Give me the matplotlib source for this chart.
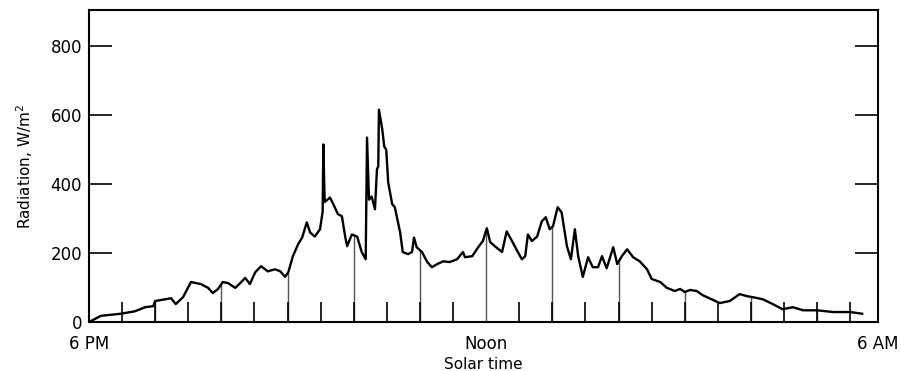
import matplotlib
matplotlib.use("Agg")
import matplotlib.pyplot as plt
import numpy as np

# solar time in hours from the left edge, radiation in W/m^2
hours = [0.03, 0.18, 0.48, 0.69, 0.85, 0.97, 1.00, 1.15, 1.24, 1.31, 1.42,
         1.54, 1.69, 1.80, 1.87, 1.95, 2.02, 2.10, 2.21, 2.30, 2.36, 2.43,
         2.51, 2.60, 2.70, 2.81, 2.89, 2.96, 3.01, 3.08, 3.16, 3.22, 3.29,
         3.34, 3.41, 3.49, 3.53, 3.54, 3.56, 3.64, 3.69, 3.76, 3.82, 3.87,
         3.90, 3.97, 4.05, 4.12, 4.18, 4.20, 4.23, 4.27, 4.32, 4.35, 4.37,
         4.38, 4.43, 4.46, 4.49, 4.52, 4.58, 4.62, 4.70, 4.74, 4.82, 4.88,
         4.91, 4.95, 5.03, 5.11, 5.18, 5.26, 5.35, 5.45, 5.56, 5.65, 5.68,
         5.79, 5.88, 5.95, 6.01, 6.06, 6.13, 6.24, 6.31, 6.39, 6.47, 6.54,
         6.59, 6.63, 6.69, 6.77, 6.84, 6.90, 6.96, 7.01, 7.08, 7.14, 7.22,
         7.28, 7.34, 7.39, 7.46, 7.54, 7.61, 7.69, 7.75, 7.82, 7.92, 7.98,
         8.05, 8.13, 8.22, 8.32, 8.43, 8.50, 8.63, 8.73, 8.85, 8.93, 9.00,
         9.08, 9.18, 9.27, 9.43, 9.53, 9.68, 9.83, 9.94, 10.03, 10.18,
         10.33, 10.48, 10.63, 10.79, 11.00, 11.24, 11.50, 11.68]
radiation = [3, 18, 24, 31, 43, 46, 61, 66, 69, 52, 72,
             116, 110, 99, 84, 96, 116, 113, 99, 116, 128, 110,
             144, 162, 147, 153, 147, 131, 144, 191, 226, 245, 289,
             260, 248, 269, 321, 515, 348, 361, 342, 313, 307, 248,
             220, 254, 248, 203, 182, 535, 355, 364, 327, 443, 452,
             616, 559, 509, 500, 405, 342, 333, 260, 203, 197, 203,
             245, 217, 203, 174, 159, 168, 176, 174, 182, 203, 188,
             191, 217, 235, 272, 232, 220, 203, 263, 235, 206, 182,
             191, 254, 235, 248, 292, 304, 269, 278, 333, 318, 220,
             182, 269, 191, 131, 188, 159, 159, 191, 156, 217, 168,
             191, 211, 188, 176, 153, 125, 116, 99, 90, 96, 87,
             93, 90, 78, 64, 55, 61, 81, 75, 72, 66,
             52, 37, 43, 34, 34, 29, 29, 24]

x_end = 11.92
half_hours = np.arange(0.5, 12.0, 0.5)
whole_hours = np.arange(1, 12, 1)
y_ticks = [0, 200, 400, 600, 800]

fig = plt.figure(figsize=(9.01, 3.71), dpi=100)
ax = fig.add_axes([0.0988, 0.132, 0.8757, 0.841])

# hourly drop lines from the axis up to the trace
drop = np.interp(whole_hours, hours, radiation)
ax.vlines(whole_hours, 0, drop, color="#555555", lw=1.0, zorder=1)

ax.plot(hours, radiation, color="black", lw=1.7, zorder=3)

ax.set_xlim(0, x_end)
ax.set_ylim(0, 905)

ax.set_yticks(y_ticks)
ax.tick_params(axis="y", direction="in", length=16.5, width=1.2,
               labelsize=12, right=True, pad=5)

ax.set_xticks([0, 6, x_end])
ax.set_xticklabels(["6 PM", "Noon", "6 AM"], fontsize=12)
ax.set_xticks(half_hours, minor=True)
ax.tick_params(axis="x", which="major", length=0, pad=9)
ax.tick_params(axis="x", which="minor", direction="in", length=14.5, width=1.2)

for s in ax.spines.values():
    s.set_linewidth(1.5)

ax.set_xlabel("Solar time", fontsize=11, labelpad=3)
ax.set_ylabel("Radiation, W/m$^2$", fontsize=11)
ax.yaxis.set_label_coords(-0.068, 0.5)

fig.savefig("out.png", dpi=100)
